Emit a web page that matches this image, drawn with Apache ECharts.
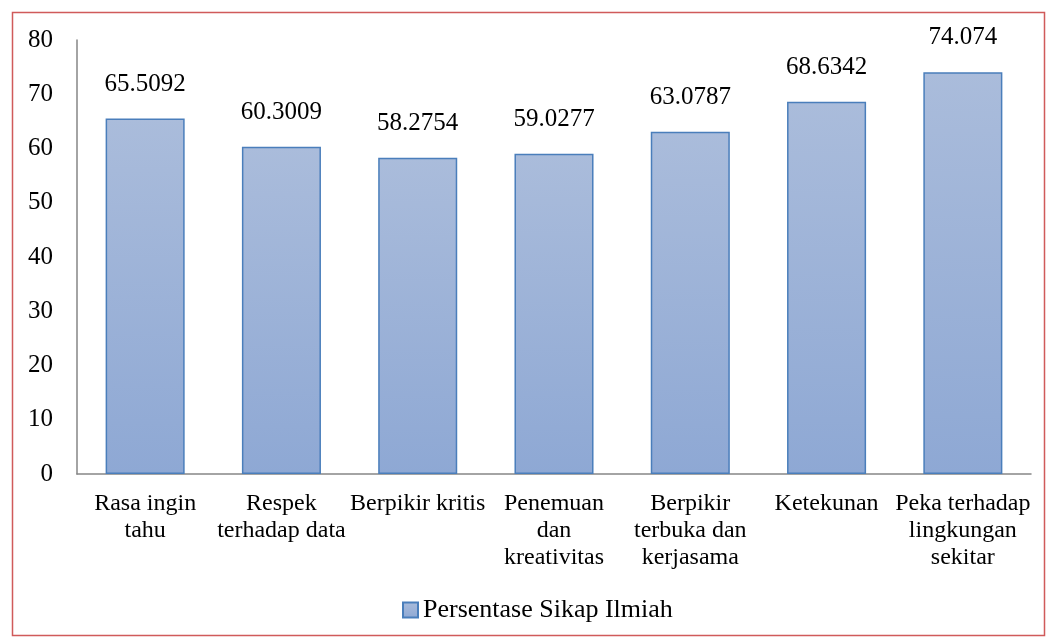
<!DOCTYPE html>
<html>
<head>
<meta charset="utf-8">
<script src="https://cdn.jsdelivr.net/npm/echarts@6/dist/echarts.min.js"></script>
<style>
html,body{margin:0;padding:0;background:#fff;}
#chart{width:1053px;height:644px;}
</style>
</head>
<body>
<div id="chart"></div>
<script>
const categories = ["Rasa ingin\ntahu", "Respek\nterhadap data", "Berpikir kritis", "Penemuan\ndan\nkreativitas", "Berpikir\nterbuka dan\nkerjasama", "Ketekunan", "Peka terhadap\nlingkungan\nsekitar"];
const values = [65.5092, 60.3009, 58.2754, 59.0277, 63.0787, 68.6342, 74.074];
const valueLabels = ["65.5092", "60.3009", "58.2754", "59.0277", "63.0787", "68.6342", "74.074"];
const seriesName = "Persentase Sikap Ilmiah";

const font = "Liberation Serif";
const barGradient = new echarts.graphic.LinearGradient(0, 0, 0, 1, [
  {offset: 0, color: '#aabcdb'},
  {offset: 1, color: '#8ea8d4'}
]);
const chart = echarts.init(document.getElementById('chart'));
chart.setOption({
  animation: false,
  backgroundColor: '#fff',
  graphic: [{
    type: 'rect', left: 10, top: 10,
    shape: {width: 1032, height: 623},
    style: {fill: 'none', stroke: '#d05a5a', lineWidth: 1.5},
    z: 100
  }],
  grid: {left: 77, right: 22, top: 40, bottom: 170, containLabel: false},
  legend: {
    data: [{name: seriesName, icon: 'rect'}],
    top: 597,
    left: 402,
    padding: 0,
    itemWidth: 15, itemHeight: 15,
    itemGap: 5,
    textStyle: {fontFamily: font, fontSize: 26, color: '#000'}
  },
  xAxis: {
    type: 'category',
    data: categories,
    axisLine: {lineStyle: {color: '#868686', width: 1.5}},
    axisTick: {show: false},
    axisLabel: {
      interval: 0, fontFamily: font, fontSize: 24, color: '#000',
      lineHeight: 27, margin: 16, align: 'center'
    }
  },
  yAxis: {
    type: 'value', min: 0, max: 80, interval: 10,
    axisLine: {show: true, lineStyle: {color: '#868686', width: 1.5}},
    axisTick: {show: false},
    splitLine: {show: false},
    axisLabel: {fontFamily: font, fontSize: 25, color: '#000', margin: 24}
  },
  series: [{
    name: seriesName,
    type: 'bar',
    data: values,
    barWidth: '58%',
    itemStyle: {color: barGradient, borderColor: '#4a7ebb', borderWidth: 1.5},
    label: {
      show: true, position: 'top', distance: 22,
      fontFamily: font, fontSize: 25, color: '#000',
      formatter: p => valueLabels[p.dataIndex]
    }
  }]
});
</script>
</body>
</html>
